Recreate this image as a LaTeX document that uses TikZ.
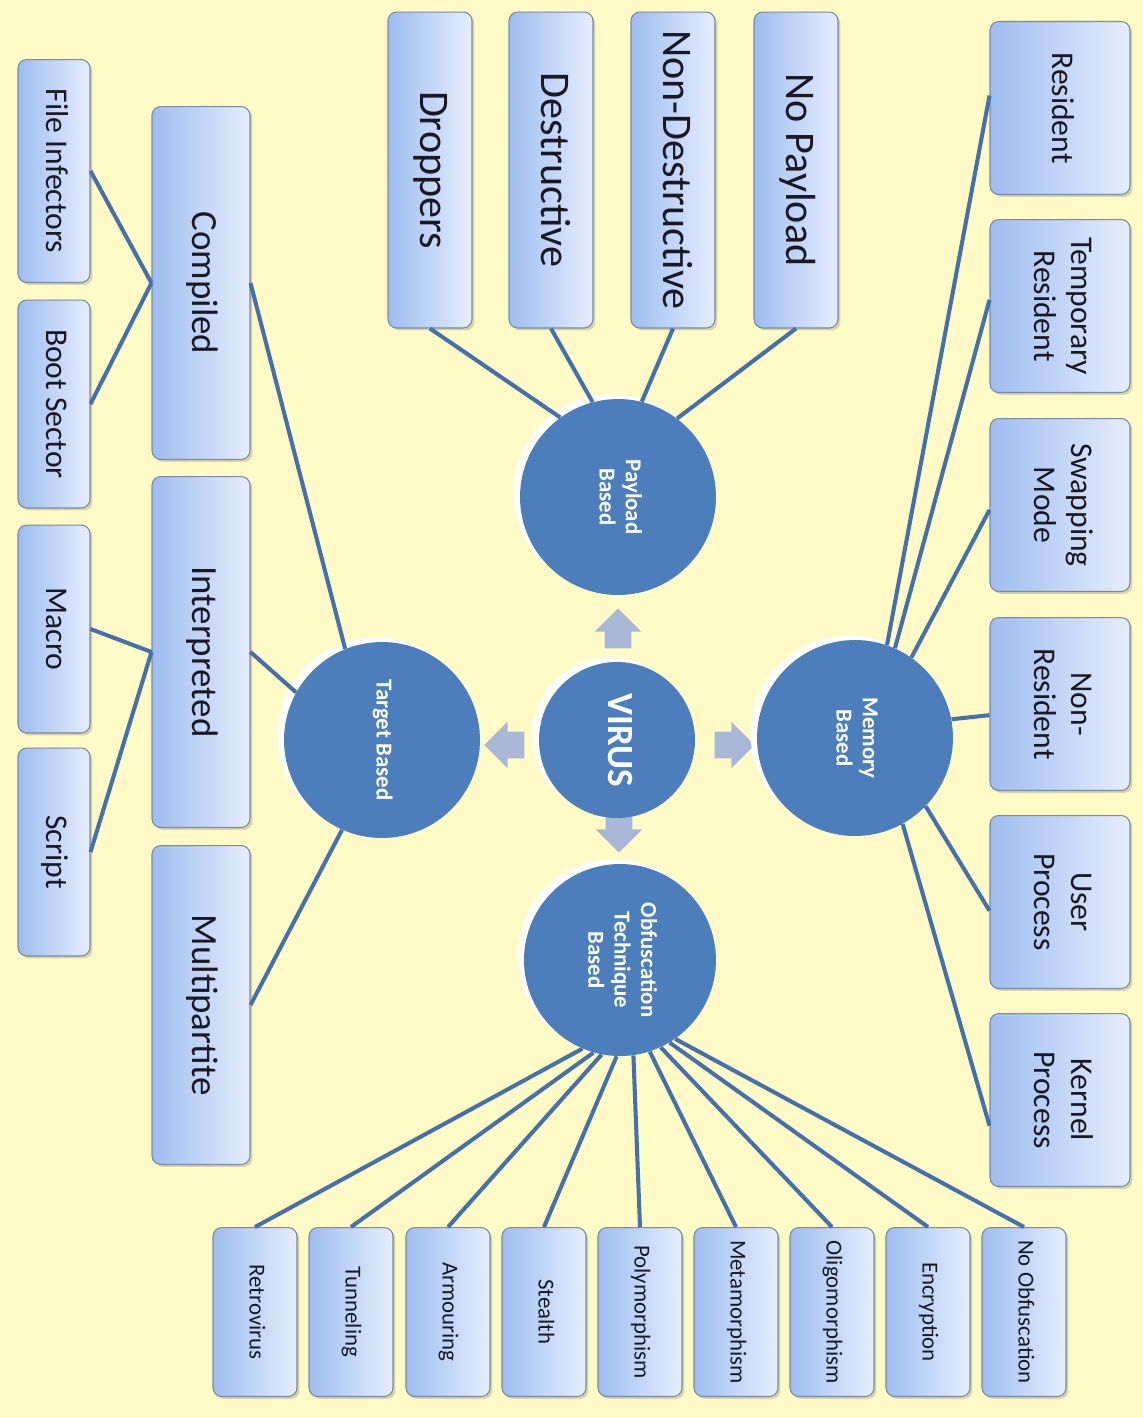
\documentclass[tikz,border=0pt]{standalone}
\usepackage{fontspec}
\setmainfont{Carlito}
\usepackage{graphicx}
\usepackage{tikz}
\usetikzlibrary{shapes.arrows, shadows}
\definecolor{paper}{RGB}{255, 250, 198}
\definecolor{discblue}{RGB}{76, 126, 188}
\definecolor{linkblue}{RGB}{68, 112, 172}
\definecolor{boxleft}{RGB}{158, 189, 240}
\definecolor{boxright}{RGB}{230, 238, 253}
\definecolor{boxedge}{RGB}{118, 138, 170}
\definecolor{arrowgray}{RGB}{168, 184, 214}
\definecolor{textdark}{RGB}{25, 25, 35}
\newcommand{\vtxt}[1]{\rotatebox{-90}{\begin{tabular}{@{}c@{}}#1\end{tabular}}}

\begin{document}
\begin{tikzpicture}[x=0.02cm, y=-0.02cm,
    disc/.style={circle, fill=discblue, minimum size=3.92cm, inner sep=0pt, text=white,
        font=\fontsize{13}{15}\selectfont\bfseries,
        drop shadow={shadow xshift=-1.3mm, shadow yshift=0.9mm, fill=white, opacity=0.9}},
    leaf/.style={rectangle, rounded corners=5pt, draw=boxedge, line width=0.6pt,
        left color=boxleft, right color=boxright, inner sep=0pt, text=textdark,
        drop shadow={shadow xshift=0.5mm, shadow yshift=-0.5mm, fill=black, opacity=0.15}},
    payleaf/.style={leaf, minimum width=1.68cm, minimum height=6.32cm, font=\fontsize{24}{28}\selectfont},
    memleaf/.style={leaf, minimum width=2.8cm, minimum height=3.46cm, font=\fontsize{18}{21}\selectfont},
    tgtleaf/.style={leaf, minimum width=1.96cm, font=\fontsize{21}{25}\selectfont},
    subleaf/.style={leaf, minimum width=1.44cm, font=\fontsize{18}{21}\selectfont},
    obfleaf/.style={leaf, minimum width=1.68cm, minimum height=3.38cm, font=\fontsize{13}{15}\selectfont},
    link/.style={draw=linkblue, line width=2.3pt},
    pointer/.style={single arrow, fill=arrowgray, inner sep=0.26cm, minimum height=0.72cm,
        single arrow head extend=0.2cm}
]
    % Page
    \fill[paper] (0,0) rectangle (1143,1418);
    \useasboundingbox (0,0) rectangle (1143,1418);

    % Arrows round the centre
    \node (upArrow) at (618, 635) [pointer, rotate=90] {};
    \node (leftArrow) at (511, 745) [pointer, rotate=180] {};
    \node (rightArrow) at (728, 745) [pointer] {};
    \node (downArrow) at (619, 826) [pointer, rotate=-90] {};

    % Circles
    \node (virus) at (617, 740) [disc, minimum size=3.12cm, font=\fontsize{21}{25}\selectfont\bfseries] {\vtxt{VIRUS}};
    \node (pay) at (618, 497) [disc] {\vtxt{Payload\\Based}};
    \node (mem) at (855, 738) [disc] {\vtxt{Memory\\Based}};
    \node (tgt) at (382, 740) [disc] {\vtxt{Target Based}};
    \node (obf) at (620, 960) [disc, minimum size=3.84cm] {\vtxt{Obfuscation\\Technique\\Based}};

    % Payload boxes
    \node (drop) at (430, 170) [payleaf] {\vtxt{Droppers}};
    \node (destr) at (551, 170) [payleaf] {\vtxt{Destructive}};
    \node (nondestr) at (673, 170) [payleaf] {\vtxt{Non-Destructive}};
    \node (nopay) at (796, 170) [payleaf] {\vtxt{No Payload}};

    % Memory boxes
    \node (res) at (1060, 108) [memleaf] {\vtxt{Resident}};
    \node (tmpres) at (1060, 306) [memleaf] {\vtxt{Temporary\\Resident}};
    \node (swap) at (1060, 505) [memleaf] {\vtxt{Swapping\\Mode}};
    \node (nonres) at (1060, 704) [memleaf] {\vtxt{Non-\\Resident}};
    \node (user) at (1060, 902) [memleaf] {\vtxt{User\\Process}};
    \node (kernel) at (1060, 1100) [memleaf] {\vtxt{Kernel\\Process}};

    % Target boxes
    \node (comp) at (201, 283) [tgtleaf, minimum height=7.06cm] {\vtxt{Compiled}};
    \node (interp) at (201, 652) [tgtleaf, minimum height=7.02cm] {\vtxt{Interpreted}};
    \node (multi) at (201, 1005) [tgtleaf, minimum height=6.38cm] {\vtxt{Multipartite}};
    \node (file) at (54, 171) [subleaf, minimum height=4.46cm] {\vtxt{File Infectors}};
    \node (boot) at (54, 404) [subleaf, minimum height=4.16cm] {\vtxt{Boot Sector}};
    \node (macro) at (54, 629) [subleaf, minimum height=4.16cm] {\vtxt{Macro}};
    \node (script) at (54, 852) [subleaf, minimum height=4.16cm] {\vtxt{Script}};

    % Obfuscation boxes
    \node (retro) at (255, 1312) [obfleaf] {\vtxt{Retrovirus}};
    \node (tunnel) at (351, 1312) [obfleaf] {\vtxt{Tunneling}};
    \node (armour) at (448, 1312) [obfleaf] {\vtxt{Armouring}};
    \node (stealth) at (544, 1312) [obfleaf] {\vtxt{Stealth}};
    \node (poly) at (640, 1312) [obfleaf] {\vtxt{Polymorphism}};
    \node (meta) at (736, 1312) [obfleaf] {\vtxt{Metamorphism}};
    \node (oligo) at (832, 1312) [obfleaf] {\vtxt{Oligomorphism}};
    \node (encr) at (928, 1312) [obfleaf] {\vtxt{Encryption}};
    \node (noobf) at (1024, 1312) [obfleaf] {\vtxt{No Obfuscation}};

    % Payload links
    \draw[link] (pay.126) -- (drop.south);
    \draw[link] (pay.105) -- (destr.south);
    \draw[link] (pay.76) -- (nondestr.south);
    \draw[link] (pay.53) -- (nopay.south);

    % Memory links
    \draw[link] (mem.71) -- (res.170);
    \draw[link] (mem.66) -- (tmpres.175);
    \draw[link] (mem.55) -- (swap.184);
    \draw[link] (mem.11) -- (nonres.189);
    \draw[link] (mem.-44) -- (user.187);
    \draw[link] (mem.-61) -- (kernel.200);

    % Target links
    \draw[link] (tgt.112) -- (comp.east);
    \draw[link] (tgt.151) -- (interp.east);
    \draw[link] (tgt.246) -- (multi.east);
    \draw[link] (comp.west) -- (file.east);
    \draw[link] (comp.west) -- (boot.east);
    \draw[link] (interp.west) -- (macro.east);
    \draw[link] (interp.west) -- (script.east);

    % Obfuscation links
    \draw[link] (obf.247) -- (retro.north);
    \draw[link] (obf.254) -- (tunnel.north);
    \draw[link] (obf.259) -- (armour.north);
    \draw[link] (obf.268) -- (stealth.north);
    \draw[link] (obf.278) -- (poly.north);
    \draw[link] (obf.288) -- (meta.north);
    \draw[link] (obf.295) -- (oligo.north);
    \draw[link] (obf.301) -- (encr.north);
    \draw[link] (obf.305) -- (noobf.north);
\end{tikzpicture}
\end{document}
